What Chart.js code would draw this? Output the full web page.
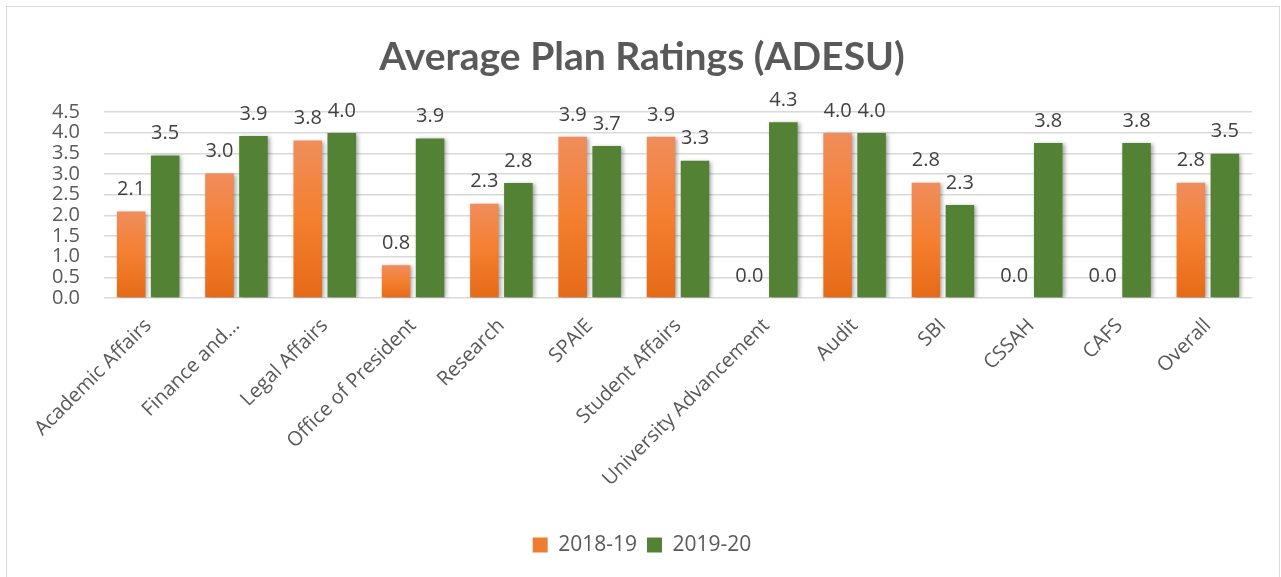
<!DOCTYPE html>
<html>
<head>
<meta charset="utf-8">
<script src="https://cdn.jsdelivr.net/npm/chart.js@4"></script>
<style>
  html, body { margin: 0; padding: 0; background: #ffffff; }
  #wrap { position: relative; width: 1281px; height: 577px; }
</style>
</head>
<body>
<div id="wrap"><canvas id="c" width="1281" height="577"></canvas></div>
<script>
const categories = ["Academic Affairs", "Finance and…", "Legal Affairs", "Office of President", "Research", "SPAIE", "Student Affairs", "University Advancement", "Audit", "SBI", "CSSAH", "CAFS", "Overall"];
const series1Name = "2018-19";
const series2Name = "2019-20";
const series1 = [2.09, 3.01, 3.81, 0.79, 2.28, 3.90, 3.90, 0.0, 3.99, 2.79, 0.0, 0.0, 2.79];
const series2 = [3.45, 3.92, 3.99, 3.86, 2.78, 3.68, 3.32, 4.25, 3.99, 2.25, 3.75, 3.75, 3.49];
const yTicks = [0, 0.5, 1.0, 1.5, 2.0, 2.5, 3.0, 3.5, 4.0, 4.5];
const titleText = "Average Plan Ratings (ADESU)";

const ORANGE = '#ed7d31';
const GREEN = '#548235';
const TEXT = '#595959';
const BASE_FONT = '"Open Sans", "DejaVu Sans", sans-serif';

function orangeGradient(ctx) {
  if (ctx.type !== 'data') return ORANGE;
  const chart = ctx.chart;
  const ys = chart.scales.y;
  if (!ys) return ORANGE;
  const top = ys.getPixelForValue(ctx.parsed.y);
  const bottom = ys.getPixelForValue(0);
  if (!isFinite(top) || !isFinite(bottom) || Math.abs(bottom - top) < 1) return ORANGE;
  const g = chart.ctx.createLinearGradient(0, top, 0, bottom);
  g.addColorStop(0, '#f08d5c');
  g.addColorStop(0.5, '#f47f2f');
  g.addColorStop(1, '#e56a17');
  return g;
}

const frame = {
  id: 'frame',
  beforeDraw(chart) {
    const c = chart.ctx;
    c.save();
    c.fillStyle = '#ffffff';
    c.fillRect(0, 0, chart.width, chart.height);
    c.strokeStyle = '#d9d9d9';
    c.lineWidth = 1;
    c.strokeRect(6.5, 6.5, chart.width - 8, chart.height + 20);
    c.restore();
  }
};

const barShadow = {
  id: 'barShadow',
  beforeDatasetDraw(chart) {
    const c = chart.ctx;
    c.save();
    c.shadowColor = 'rgba(0,0,0,0.35)';
    c.shadowBlur = 4;
    c.shadowOffsetX = 2;
    c.shadowOffsetY = 1;
  },
  afterDatasetDraw(chart) {
    chart.ctx.restore();
  }
};

const valueLabels = {
  id: 'valueLabels',
  afterDatasetsDraw(chart) {
    const c = chart.ctx;
    c.save();
    c.font = '20px ' + BASE_FONT;
    c.fillStyle = '#404040';
    c.textAlign = 'center';
    c.textBaseline = 'middle';
    chart.data.datasets.forEach((ds, i) => {
      const meta = chart.getDatasetMeta(i);
      meta.data.forEach((bar, j) => {
        const v = ds.data[j];
        c.fillText(v.toFixed(1), bar.x, bar.y - 22);
      });
    });
    c.restore();
  }
};

function build() {
  new Chart(document.getElementById('c'), {
    type: 'bar',
    data: {
      labels: categories,
      datasets: [
        { label: series1Name, data: series1, backgroundColor: orangeGradient, categoryPercentage: 0.77, barPercentage: 0.84 },
        { label: series2Name, data: series2, backgroundColor: GREEN, categoryPercentage: 0.77, barPercentage: 0.84 }
      ]
    },
    options: {
      responsive: false,
      animation: false,
      layout: { padding: { left: 16, right: 13, top: 0, bottom: 11.5 } },
      plugins: {
        title: {
          display: true,
          text: titleText,
          color: TEXT,
          font: { family: 'Lato, "Open Sans", sans-serif', size: 39, weight: 'bold', lineHeight: 1.2 },
          padding: { top: 33.6, bottom: 31.6 }
        },
        legend: {
          position: 'bottom',
          labels: {
            color: TEXT,
            font: { family: BASE_FONT, size: 21 },
            boxWidth: 15,
            boxHeight: 15,
            padding: 10,
            generateLabels(chart) {
              return chart.data.datasets.map((ds, i) => ({
                text: ds.label,
                fillStyle: i === 0 ? ORANGE : GREEN,
                strokeStyle: 'transparent',
                lineWidth: 0,
                fontColor: TEXT,
                hidden: false,
                datasetIndex: i
              }));
            }
          }
        },
        tooltip: { enabled: false }
      },
      scales: {
        x: {
          grid: { display: false, drawTicks: false },
          border: { display: false },
          ticks: {
            color: TEXT,
            font: { family: BASE_FONT, size: 20 },
            minRotation: 45,
            maxRotation: 45,
            autoSkip: false,
            padding: 16
          },
          afterFit(scale) { scale.height = 226.5; }
        },
        y: {
          position: 'left',
          min: 0,
          max: 4.5,
          afterBuildTicks(scale) { scale.ticks = yTicks.map(v => ({ value: v })); },
          grid: { color: '#d9d9d9', lineWidth: 1.5, drawTicks: false },
          border: { display: false },
          ticks: {
            color: TEXT,
            font: { family: BASE_FONT, size: 20, lineHeight: 1 },
            padding: 24,
            autoSkip: false,
            callback: (v) => Number(v).toFixed(1)
          },
          afterFit(scale) { scale.width = 88; }
        },
        ySpacer: {
          position: 'right',
          min: 0,
          max: 4.5,
          grid: { display: false, drawTicks: false },
          border: { display: false },
          ticks: { display: false },
          afterFit(scale) { scale.width = 16; }
        }
      }
    },
    plugins: [frame, barShadow, valueLabels]
  });
}

Promise.all([
  document.fonts.load('20px "Open Sans"'),
  document.fonts.load('bold 39px Lato')
]).catch(() => {}).then(build);
</script>
</body>
</html>
